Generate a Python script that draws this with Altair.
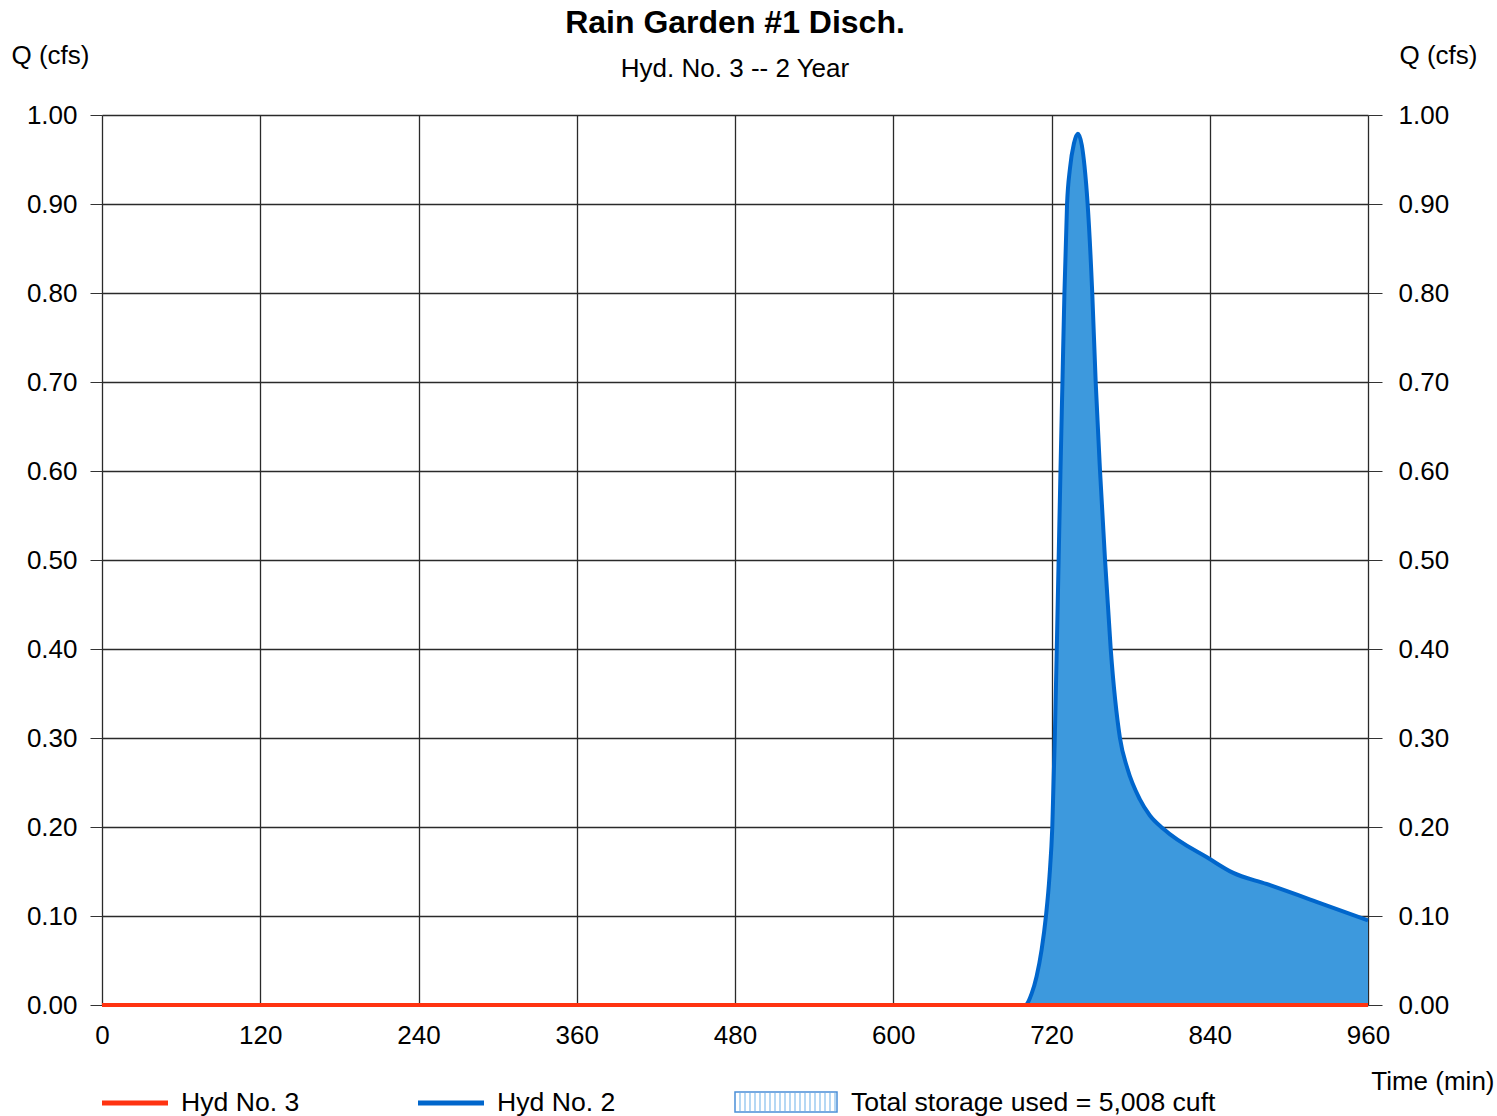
import altair as alt
import pandas as pd

# Hydrograph ordinates (time in minutes, discharge in cfs)
hyd2_time = [0, 700, 705, 708.7, 712.5, 715.8, 718.5, 720.6, 722.5, 724.0, 725.4,
             726.8, 728.3, 729.8, 731.8, 734, 737, 740, 743, 745, 747.4, 750.9,
             753.5, 756.8, 760.6, 764.9, 771.9, 777.5, 787, 794.6, 804.8,
             840, 857, 883, 921, 960]
hyd2_q = [0, 0, 0.013, 0.032, 0.062, 0.1, 0.145, 0.2, 0.3, 0.4, 0.5,
          0.6, 0.7, 0.8, 0.9, 0.94, 0.968, 0.979, 0.966, 0.943, 0.9, 0.8,
          0.7, 0.6, 0.5, 0.4, 0.3, 0.266, 0.231, 0.213, 0.198,
          0.164, 0.149, 0.136, 0.116, 0.095]

hyd3_time = [0, 960]
hyd3_q = [0, 0]

x_ticks = [0, 120, 240, 360, 480, 600, 720, 840, 960]
y_ticks = [0.0, 0.1, 0.2, 0.3, 0.4, 0.5, 0.6, 0.7, 0.8, 0.9, 1.0]

legend_labels = ["Hyd No. 3", "Hyd No. 2", "Total storage used = 5,008 cuft"]

FONT = "Liberation Sans"
FS = 26
RED = "#ff3311"
BLUE = "#0066cc"
FILL = "#3d99dd"
GRID = "#2a2a2a"

hyd2 = pd.DataFrame({"t": hyd2_time, "q": hyd2_q})
hyd3 = pd.DataFrame({"t": hyd3_time, "q": hyd3_q})
one = pd.DataFrame({"k": [0]})

x_scale = alt.Scale(domain=[0, 960], nice=False, zero=False)
y_scale = alt.Scale(domain=[0, 1], nice=False)

x_axis = alt.Axis(
    values=x_ticks, grid=True, gridColor=GRID, gridWidth=1.3, gridOpacity=1,
    ticks=False, domain=False, labelFlush=False,
    labelFontSize=FS, labelFont=FONT, labelColor="black", labelPadding=17,
    title="Time (min)", titleFont=FONT, titleFontSize=FS, titleFontWeight="normal",
    titleColor="black", titleAlign="right", titleBaseline="middle",
    titleX=1392, titleY=76,
)
x_enc = alt.X("t:Q", scale=x_scale, axis=x_axis)

left_axis = alt.Axis(
    orient="left", values=y_ticks, format=".2f", grid=True, gridColor=GRID,
    gridWidth=1.3, gridOpacity=1, domain=False,
    tickSize=12, tickColor="#333333", labelFontSize=FS, labelFont=FONT,
    labelColor="black", labelPadding=13,
    title="Q (cfs)", titleFont=FONT, titleFontSize=FS, titleFontWeight="normal",
    titleColor="black", titleAngle=0, titleAlign="center", titleBaseline="middle",
    titleX=-52, titleY=-60,
)
right_axis = alt.Axis(
    orient="right", values=y_ticks, format=".2f", grid=False, domain=False,
    tickSize=14, tickColor="#333333", labelFontSize=FS, labelFont=FONT,
    labelColor="black", labelPadding=16,
    title="Q (cfs)", titleFont=FONT, titleFontSize=FS, titleFontWeight="normal",
    titleColor="black", titleAngle=0, titleAlign="center", titleBaseline="middle",
    titleX=70, titleY=-60,
)

area = alt.Chart(hyd2).mark_area(color=FILL, interpolate="monotone").encode(
    x=x_enc, y=alt.Y("q:Q", scale=y_scale, axis=left_axis)
)
line2 = alt.Chart(hyd2).mark_line(color=BLUE, strokeWidth=4, interpolate="monotone").encode(
    x=x_enc, y=alt.Y("q:Q", scale=y_scale, axis=None)
)
line3 = alt.Chart(hyd3).mark_line(color=RED, strokeWidth=4).encode(
    x=x_enc, y=alt.Y("q:Q", scale=y_scale, axis=right_axis)
)

# Legend row below the plot
LY = 988
LFS = 26.6
base = alt.Chart(one)
leg_red = base.mark_rule(color=RED, strokeWidth=5).encode(
    x=alt.value(0), x2=alt.value(66), y=alt.value(LY))
leg_blue = base.mark_rule(color=BLUE, strokeWidth=5).encode(
    x=alt.value(316), x2=alt.value(382), y=alt.value(LY))
leg_box = base.mark_rect(fill="white", stroke="#4a8fd8", strokeWidth=1.5).encode(
    x=alt.value(633), x2=alt.value(735), y=alt.value(LY - 11), y2=alt.value(LY + 9))
stripes = [
    base.mark_rule(color="#9ccbf0", strokeWidth=1.5).encode(
        x=alt.value(638 + 5 * i), y=alt.value(LY - 10), y2=alt.value(LY + 8))
    for i in range(20)
]
text_style = dict(align="left", baseline="middle", fontSize=LFS, font=FONT, color="black")
leg_t1 = base.mark_text(**text_style).encode(
    x=alt.value(79), y=alt.value(LY), text=alt.value(legend_labels[0]))
leg_t2 = base.mark_text(**text_style).encode(
    x=alt.value(395), y=alt.value(LY), text=alt.value(legend_labels[1]))
leg_t3 = base.mark_text(**text_style).encode(
    x=alt.value(749), y=alt.value(LY), text=alt.value(legend_labels[2]))

chart = alt.layer(
    area, line2, line3, leg_red, leg_blue, leg_box, *stripes, leg_t1, leg_t2, leg_t3
).resolve_axis(y="independent").properties(
    width=1266, height=890,
    padding={"left": 102, "top": 115, "right": 129, "bottom": 111},
    autosize=alt.AutoSizeParams(type="none"),
    title=alt.TitleParams(
        "Rain Garden #1 Disch.", subtitle="Hyd. No. 3 -- 2 Year",
        font=FONT, fontSize=32, fontWeight="bold", color="black",
        subtitleFont=FONT, subtitleFontSize=FS, subtitleColor="black",
        subtitlePadding=16, anchor="middle", offset=-41,
    ),
).configure_view(strokeWidth=0).configure(background="white")

chart.save("out.html", embed_options={"renderer": "svg", "actions": False})
